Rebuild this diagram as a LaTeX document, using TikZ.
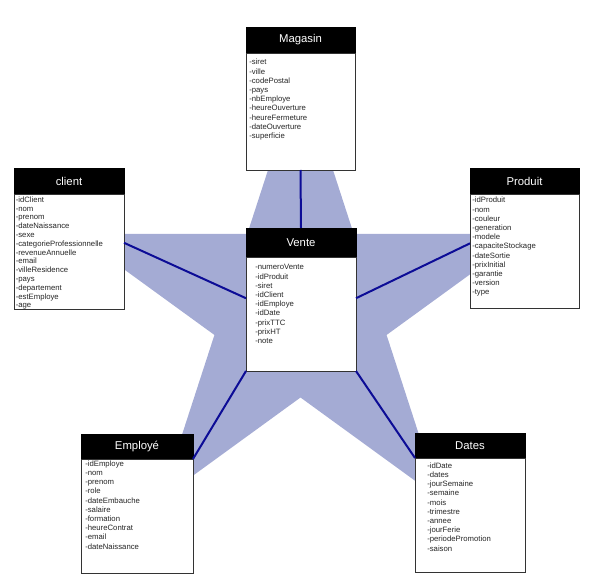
\documentclass[tikz,border=0pt]{standalone}
\usepackage{fontspec}
\setmainfont{Liberation Sans}
\usetikzlibrary{positioning}
\definecolor{etoile}{RGB}{164,171,212}
\definecolor{lienbleu}{RGB}{12,12,150}
\tikzset{
  entete/.style={draw=black, fill=black, text=white, font=\fontsize{8.5}{10}\selectfont, inner sep=0pt, outer sep=0pt},
  corps/.style={draw=black!80, fill=white, inner sep=0pt, outer sep=0pt},
  champs/.style={align=left, inner sep=0pt, anchor=north west, text=black!85, font=\fontsize{5.8}{6.9}\selectfont},
  lien/.style={draw=lienbleu, line width=1.5pt}
}
\begin{document}
\begin{tikzpicture}[x=0.75pt, y=-0.75pt]
    \useasboundingbox (0,0) rectangle (596,581);

    % etoile
    \fill[etoile, shift={(300.5,307)}] (270:237)
        \foreach \a/\r in {306/90.5, 342/237, 18/90.5, 54/237, 90/90.5, 126/237, 162/90.5, 198/237, 234/90.5} { -- (\a:\r) }
        -- cycle;

    % Magasin
    \node[entete, minimum width=81.75pt, minimum height=19.5pt] (magasin) at (300.5,40) {Magasin};
    \node[corps, minimum width=81.75pt, minimum height=87.75pt, below=0pt of magasin] (magasinb) {};
    \node[champs] (magasinc) at ([shift={(3,6)}]magasinb.north west)
        {-siret\\-ville\\-codePostal\\-pays\\-nbEmploye\\-heureOuverture\\-heureFermeture\\-dateOuverture\\-superficie};

    % client
    \node[entete, minimum width=82.5pt, minimum height=19.5pt] (client) at (69,181) {client};
    \node[corps, minimum width=82.5pt, minimum height=86.25pt, below=0pt of client] (clientb) {};
    \node[champs, font=\fontsize{5.8}{6.6}\selectfont] (clientc) at ([shift={(1.5,2.4)}]clientb.north west)
        {-idClient\\-nom\\-prenom\\-dateNaissance\\-sexe\\-categorieProfessionnelle\\-revenueAnnuelle\\-email\\-villeResidence\\-pays\\-departement\\-estEmploye\\-age};

    % Produit
    \node[entete, minimum width=81.75pt, minimum height=19.5pt] (produit) at (524.5,181) {Produit};
    \node[corps, minimum width=81.75pt, minimum height=85.5pt, below=0pt of produit] (produitb) {};
    \node[champs] (produitc) at ([shift={(2,3)}]produitb.north west)
        {-idProduit\\-nom\\-couleur\\-generation\\-modele\\-capaciteStockage\\-dateSortie\\-prixInitial\\-garantie\\-version\\-type};

    % Vente
    \node[entete, minimum width=82.5pt, minimum height=21.75pt] (vente) at (301,242.5) {Vente};
    \node[corps, minimum width=82.5pt, minimum height=85.5pt, below=0pt of vente] (venteb) {};
    \node[champs] (ventec) at ([shift={(9,7.4)}]venteb.north west)
        {-numeroVente\\-idProduit\\-siret\\-idClient\\-idEmploye\\-idDate\\-prixTTC\\-prixHT\\-note};

    % Employe
    \node[entete, minimum width=84pt, minimum height=18.75pt] (employe) at (137,446.5) {Employé};
    \node[corps, minimum width=84pt, minimum height=85.5pt, below=0pt of employe] (employeb) {};
    \node[champs] (employec) at ([shift={(4,1.4)}]employeb.north west)
        {-idEmploye\\-nom\\-prenom\\-role\\-dateEmbauche\\-salaire\\-formation\\-heureContrat\\-email\\-dateNaissance};

    % Dates
    \node[entete, minimum width=82.5pt, minimum height=18.75pt] (dates) at (470,445.5) {Dates};
    \node[corps, minimum width=82.5pt, minimum height=85.5pt, below=0pt of dates] (datesb) {};
    \node[champs] (datesc) at ([shift={(12,4.4)}]datesb.north west)
        {-idDate\\-dates\\-jourSemaine\\-semaine\\-mois\\-trimestre\\-annee\\-jourFerie\\-periodePromotion\\-saison};

    % liens
    \draw[lien] (magasinb.south) -- (vente.north);
    \draw[lien] (clientb.9) -- (venteb.164);
    \draw[lien] (produitb.172) -- (venteb.16);
    \draw[lien] (venteb.south west) -- (employeb.north east);
    \draw[lien] (venteb.south east) -- (datesb.north west);
\end{tikzpicture}
\end{document}
